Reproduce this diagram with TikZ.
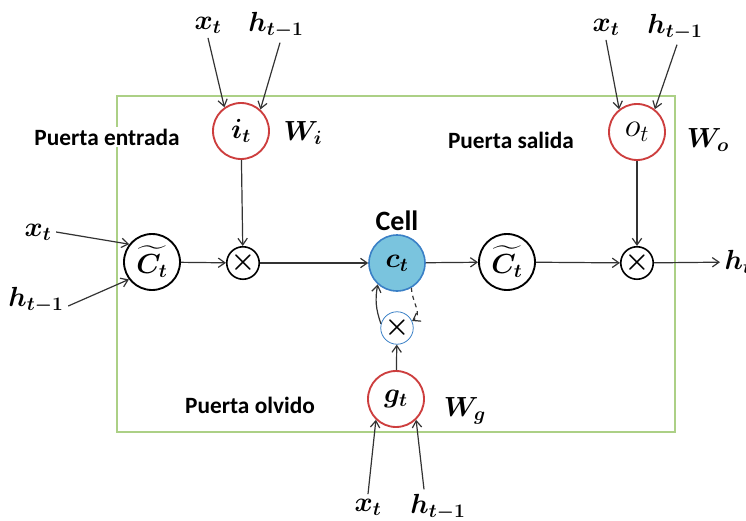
\documentclass[tikz,border=0pt]{standalone}
\usepackage{fontspec}
\setsansfont{Carlito}
\usepackage{amsmath}
\usepackage{bm}
\usetikzlibrary{calc, positioning}
\usetikzlibrary{arrows.meta}

\definecolor{gatered}{RGB}{205,62,62}
\definecolor{cellfill}{RGB}{122,196,222}
\definecolor{celledge}{RGB}{58,128,198}
\definecolor{boxgreen}{RGB}{172,208,134}

\tikzset{
  gate/.style={circle, draw=gatered, line width=1.4pt, minimum size=42pt, inner sep=0pt},
  cand/.style={circle, draw=black, line width=1.4pt, minimum size=42pt, inner sep=0pt},
  mult/.style={circle, draw=black, line width=1.2pt, minimum size=22.5pt, inner sep=0pt, font=\fontsize{22}{22}\selectfont},
  cellnode/.style={circle, draw=celledge, fill=cellfill, line width=1.2pt, minimum size=42pt, inner sep=0pt},
  flow/.style={-{Straight Barb[length=5pt,width=7pt]}, line width=0.9pt, black!80},
  lbl/.style={font=\sffamily\bfseries\fontsize{17.5}{19}\selectfont, inner sep=1pt},
}

\begin{document}
\begin{tikzpicture}[x=0.75pt,y=-0.75pt, font=\fontsize{21}{23}\selectfont]
\useasboundingbox (0,0) rectangle (746,521);
\draw[boxgreen, line width=0.9pt] (117,96) rectangle (675,432);
% gates
\node[gate] (ig) at (241,131) {$\bm{i_t}$};
\node[gate, font=\fontsize{25}{25}\selectfont] (og) at (637,132) {$o_t$};
\node[gate] (gg) at (396,399) {$\bm{g_t}$};
\node at (303,133) {$\bm{W_i}$};
\node at (708,140) {$\bm{W_o}$};
\node at (465,411) {$\bm{W_g}$};
% main line
\node[cand] (cl) at (152,262) {$\widetilde{\bm{C_t}}$};
\node[mult] (ml) at (243,263) {$\bm{\times}$};
\node[cellnode] (ct) at (397,263) {$\bm{c_t}$};
\node[font=\sffamily\bfseries\fontsize{21}{23}\selectfont, above=-1pt of ct] {Cell};
\node[cand] (cr) at (507,262) {$\widetilde{\bm{C_t}}$};
\node[mult] (mr) at (637,263) {$\bm{\times}$};
\node[anchor=west] (ht) at (720,262) {$\bm{h_t}$};
\node[mult, draw=celledge, line width=0.6pt, minimum size=21pt] (mc) at (397,328) {$\bm{\times}$};
% texts
\node[lbl, fill=white] at (107,137) {Puerta entrada};
\node[lbl] at (511,140) {Puerta salida};
\node[lbl] at (250,405) {Puerta olvido};
% inputs
\node (xi) at (208,25) {$\bm{x_t}$};
\node (hi) at (276,25) {$\bm{h_{t-1}}$};
\node (xo) at (606,27) {$\bm{x_t}$};
\node (ho) at (675,27) {$\bm{h_{t-1}}$};
\node (xg) at (368,507) {$\bm{x_t}$};
\node (hg) at (438,507) {$\bm{h_{t-1}}$};
\node (xc) at (38,232) {$\bm{x_t}$};
\node (hc) at (36,300) {$\bm{h_{t-1}}$};
\draw[flow] (xi.south) -- (ig.125);
\draw[flow] ($(hi.south)+(4,0)$) -- (ig.48);
\draw[flow] (xo.south) -- (og.128);
\draw[flow] ($(ho.south)+(2,0)$) -- (og.52);
\draw[flow] (xg.north) -- (gg.226);
\draw[flow] ($(hg.north)+(-14,0)$) -- (gg.314);
\draw[flow] (xc.east) -- (cl.142);
\draw[flow] ($(hc.east)+(0,6)$) -- (cl.217);
% connections
\draw[flow] (cl) -- (ml);
\draw[flow] (ml) -- (ct);
\draw[flow] (ct) -- (cr);
\draw[flow] (cr) -- (mr);
\draw[flow] (mr) -- (ht);
\draw[flow] (ig) -- (ml);
\draw[flow] (og) -- (mr);
\draw[flow] (gg) -- (mc);
\draw[flow] (mc.165) to[bend left=15] (ct.228);
\draw[flow, dashed] (ct.300) to[out=-90,in=30] (mc.25);
\end{tikzpicture}
\end{document}
